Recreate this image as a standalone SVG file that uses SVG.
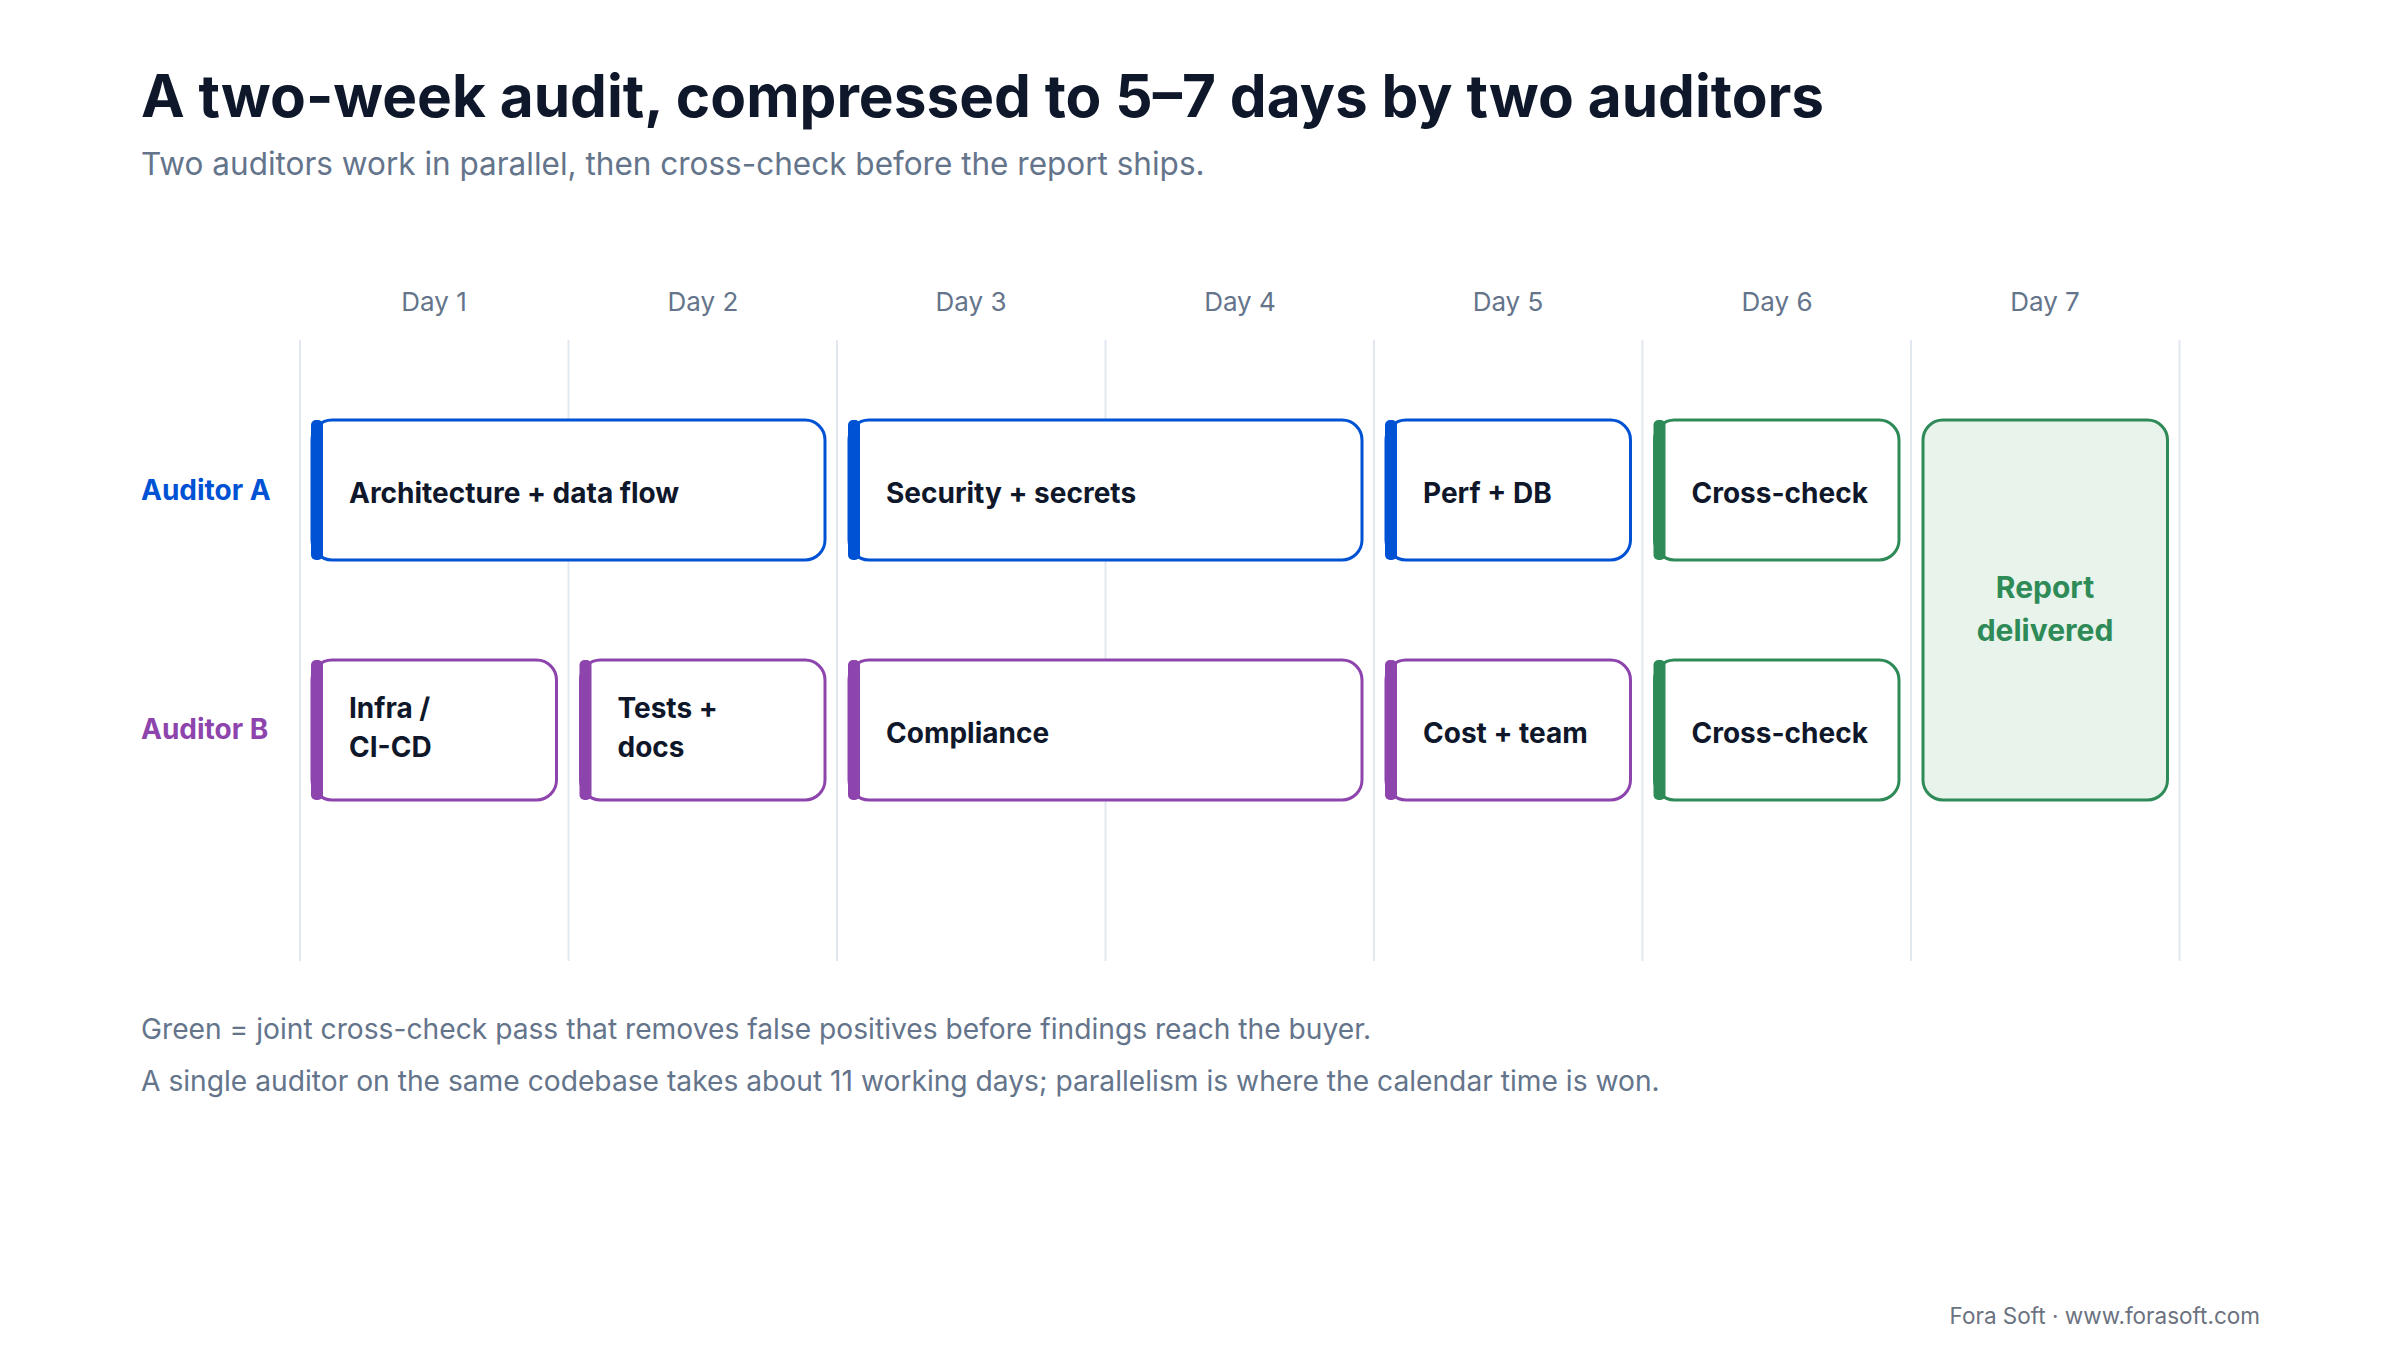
<svg xmlns="http://www.w3.org/2000/svg" width="2400" height="1360" viewBox="0 0 2400 1360">
<style>
.title{font-family:Inter,"Noto Sans","Liberation Sans",sans-serif;font-weight:700;font-size:58.5px;fill:#0f172a}
.sub{font-family:Inter,"Noto Sans","Liberation Sans",sans-serif;font-size:31.5px;fill:#64748b}
.day{font-family:Inter,"Noto Sans","Liberation Sans",sans-serif;font-size:26px;fill:#64748b;text-anchor:middle}
.lane{font-family:Inter,"Noto Sans","Liberation Sans",sans-serif;font-weight:700;font-size:28px}
.lbl{font-family:Inter,"Noto Sans","Liberation Sans",sans-serif;font-weight:700;font-size:28px;fill:#0f172a}
.rep{font-family:Inter,"Noto Sans","Liberation Sans",sans-serif;font-weight:700;font-size:30px;fill:#2e8b57;text-anchor:middle}
.note{font-family:Inter,"Noto Sans","Liberation Sans",sans-serif;font-size:28.2px;fill:#64748b}
.foot{font-family:Inter,"Noto Sans","Liberation Sans",sans-serif;font-size:22.5px;fill:#6b7280;text-anchor:end}
.grid{stroke:#e2e8f0;stroke-width:2}
.boxA{fill:#ffffff;stroke:#0052d4;stroke-width:3}
.boxB{fill:#ffffff;stroke:#8e44ad;stroke-width:3}
.boxG{fill:#ffffff;stroke:#2e8b57;stroke-width:3}
.barA{fill:#0052d4}
.barB{fill:#8e44ad}
.barG{fill:#2e8b57}
</style>
<rect width="2400" height="1360" fill="#ffffff"/>
<text class="title" x="141" y="117">A two-week audit, compressed to 5–7 days by two auditors</text>
<text class="sub" x="141" y="175">Two auditors work in parallel, then cross-check before the report ships.</text>
<g id="grid">
<line class="grid" x1="300" y1="340" x2="300" y2="961"/>
<line class="grid" x1="568.5" y1="340" x2="568.5" y2="961"/>
<line class="grid" x1="837" y1="340" x2="837" y2="961"/>
<line class="grid" x1="1105.5" y1="340" x2="1105.5" y2="961"/>
<line class="grid" x1="1374" y1="340" x2="1374" y2="961"/>
<line class="grid" x1="1642.5" y1="340" x2="1642.5" y2="961"/>
<line class="grid" x1="1911" y1="340" x2="1911" y2="961"/>
<line class="grid" x1="2179.5" y1="340" x2="2179.5" y2="961"/>
</g>
<g id="days">
<text class="day" x="434" y="311">Day 1</text>
<text class="day" x="703" y="311">Day 2</text>
<text class="day" x="971" y="311">Day 3</text>
<text class="day" x="1240" y="311">Day 4</text>
<text class="day" x="1508" y="311">Day 5</text>
<text class="day" x="1777" y="311">Day 6</text>
<text class="day" x="2045" y="311">Day 7</text>
</g>
<g id="lanes">
<text class="lane" x="141" y="500" fill="#0052d4">Auditor A</text>
<text class="lane" x="141" y="739" fill="#8e44ad">Auditor B</text>
</g>
<g id="a1"><rect class="boxA" x="312" y="420" width="513" height="140" rx="20"/><rect class="barA" x="311" y="420" width="12" height="140" rx="5"/><text class="lbl" x="349" y="503">Architecture + data flow</text></g>
<g id="a2"><rect class="boxA" x="849" y="420" width="513" height="140" rx="20"/><rect class="barA" x="848" y="420" width="12" height="140" rx="5"/><text class="lbl" x="886" y="503">Security + secrets</text></g>
<g id="a3"><rect class="boxA" x="1386" y="420" width="244.5" height="140" rx="20"/><rect class="barA" x="1385" y="420" width="12" height="140" rx="5"/><text class="lbl" x="1423" y="503">Perf + DB</text></g>
<g id="a4"><rect class="boxG" x="1654.5" y="420" width="244.5" height="140" rx="20"/><rect class="barG" x="1653.5" y="420" width="12" height="140" rx="5"/><text class="lbl" x="1691.5" y="503">Cross-check</text></g>
<g id="b1"><rect class="boxB" x="312" y="660" width="244.5" height="140" rx="20"/><rect class="barB" x="311" y="660" width="12" height="140" rx="5"/><text class="lbl" x="349" y="718">Infra /</text><text class="lbl" x="349" y="757">CI-CD</text></g>
<g id="b2"><rect class="boxB" x="580.5" y="660" width="244.5" height="140" rx="20"/><rect class="barB" x="579.5" y="660" width="12" height="140" rx="5"/><text class="lbl" x="617.5" y="718">Tests +</text><text class="lbl" x="617.5" y="757">docs</text></g>
<g id="b3"><rect class="boxB" x="849" y="660" width="513" height="140" rx="20"/><rect class="barB" x="848" y="660" width="12" height="140" rx="5"/><text class="lbl" x="886" y="743">Compliance</text></g>
<g id="b4"><rect class="boxB" x="1386" y="660" width="244.5" height="140" rx="20"/><rect class="barB" x="1385" y="660" width="12" height="140" rx="5"/><text class="lbl" x="1423" y="743">Cost + team</text></g>
<g id="b5"><rect class="boxG" x="1654.5" y="660" width="244.5" height="140" rx="20"/><rect class="barG" x="1653.5" y="660" width="12" height="140" rx="5"/><text class="lbl" x="1691.5" y="743">Cross-check</text></g>
<g id="report"><rect x="1923" y="420" width="244.5" height="380" rx="20" fill="#e8f3ec" stroke="#2e8b57" stroke-width="3"/><text class="rep" x="2045" y="598">Report</text><text class="rep" x="2045" y="641">delivered</text></g>
<g id="connectors"/>
<text class="note" x="141" y="1039">Green = joint cross-check pass that removes false positives before findings reach the buyer.</text>
<text class="note" x="141" y="1091">A single auditor on the same codebase takes about 11 working days; parallelism is where the calendar time is won.</text>
<text class="foot" x="2260" y="1324">Fora Soft · www.forasoft.com</text>
</svg>
